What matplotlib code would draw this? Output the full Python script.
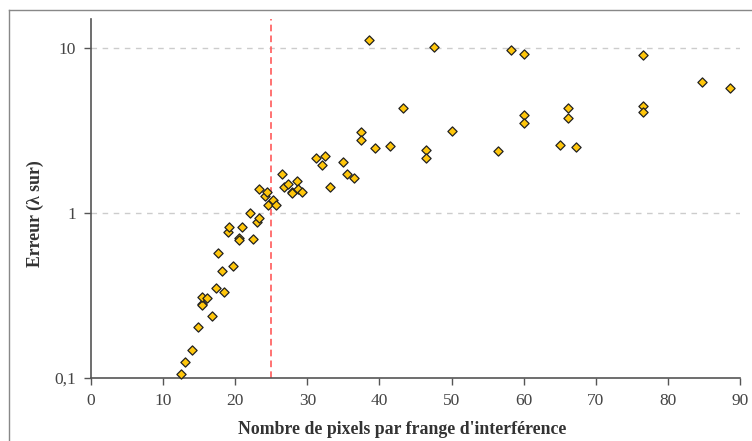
import matplotlib
matplotlib.use("Agg")
import matplotlib.pyplot as plt
from matplotlib.lines import Line2D
from matplotlib.ticker import FixedLocator, FixedFormatter, NullLocator

pixels = [12.5, 13.0, 14.0, 14.9, 15.4, 15.4, 15.4, 16.1, 16.8, 17.3, 18.4, 18.1, 17.6, 19.7,
          19.0, 19.1, 20.5, 20.5, 21.0, 22.4, 22.1, 23.0, 23.3, 23.3, 24.1, 24.4, 25.2, 24.6,
          25.6, 26.5, 26.7, 27.3, 27.9, 27.9, 28.5, 28.7, 29.2, 31.2, 32.5, 32.0, 33.1, 34.9,
          35.5, 36.5, 37.5, 37.5, 38.6, 39.4, 41.5, 43.3, 46.4, 46.4, 47.5, 50.0, 56.5, 58.2,
          60.0, 60.0, 60.0, 65.0, 66.1, 66.1, 67.3, 76.5, 76.5, 76.5, 84.7, 88.6]
erreur = [0.106, 0.125, 0.148, 0.203, 0.282, 0.276, 0.311, 0.305, 0.238, 0.350, 0.333, 0.443,
          0.570, 0.477, 0.764, 0.819, 0.708, 0.686, 0.826, 0.692, 1.0, 0.878, 0.929, 1.40,
          1.26, 1.34, 1.19, 1.12, 1.11, 1.71, 1.43, 1.49, 1.34, 1.31, 1.55, 1.39, 1.34, 2.15,
          2.21, 1.96, 1.44, 2.03, 1.72, 1.62, 3.08, 2.77, 11.07, 2.47, 2.55, 4.33, 2.41, 2.16,
          10.1, 3.14, 2.37, 9.72, 9.20, 3.89, 3.50, 2.56, 4.29, 3.75, 2.49, 9.03, 4.43, 4.08,
          6.16, 5.67]
seuil = 25
x_ticks = [0, 10, 20, 30, 40, 50, 60, 70, 80, 90]
y_ticks = [0.1, 1, 10]
y_tick_labels = ["0,1", "1", "10"]

plt.rcParams['font.family'] = ['Liberation Serif', 'DejaVu Serif']

W, H = 752, 441
fig = plt.figure(figsize=(W / 100, H / 100), dpi=100)
ax = fig.add_axes([91 / W, 63 / H, (740 - 91) / W, (378 - 19) / H])

ax.set_yscale('log')
ax.set_xlim(0, 90)
ax.set_ylim(0.1, 14.9)

for v in [1, 10]:
    ax.axhline(v, color='#cccccc', lw=1, ls=(0, (4, 4)), zorder=1)
ax.axvline(seuil, color='#ff5a5a', lw=1.2, ls=(0, (4, 2.5)), zorder=2)

ax.scatter(pixels, erreur, marker='D', s=22, facecolor='#FFC60B', edgecolor='#222222',
           linewidths=0.9, zorder=3, clip_on=False)

ax.xaxis.set_major_locator(FixedLocator(x_ticks))
ax.yaxis.set_major_locator(FixedLocator(y_ticks))
ax.yaxis.set_major_formatter(FixedFormatter(y_tick_labels))
ax.yaxis.set_minor_locator(NullLocator())

for s in ['top', 'right']:
    ax.spines[s].set_visible(False)
for s in ['left', 'bottom']:
    ax.spines[s].set_color('#555555')
    ax.spines[s].set_linewidth(1.2)
ax.tick_params(axis='both', direction='out', length=5, width=1, color='#555555',
               labelcolor='#444444', labelsize=12.5, pad=6)

fig.text(402 / W, 1 - 429 / H, "Nombre de pixels par frange d'interférence", fontsize=12.8,
         fontweight='bold', color='#333333', ha='center', va='center')
fig.text(35 / W, 1 - 214 / H, "Erreur (λ sur)", fontsize=12.8, fontweight='bold',
         color='#333333', ha='center', va='center', rotation=90)

fig.add_artist(Line2D([9 / W, 9 / W], [0, 1 - 10 / H], transform=fig.transFigure,
                      color='#888888', lw=1))
fig.add_artist(Line2D([9 / W, 1], [1 - 10 / H, 1 - 10 / H], transform=fig.transFigure,
                      color='#888888', lw=1))

fig.savefig('out.png', dpi=100)
